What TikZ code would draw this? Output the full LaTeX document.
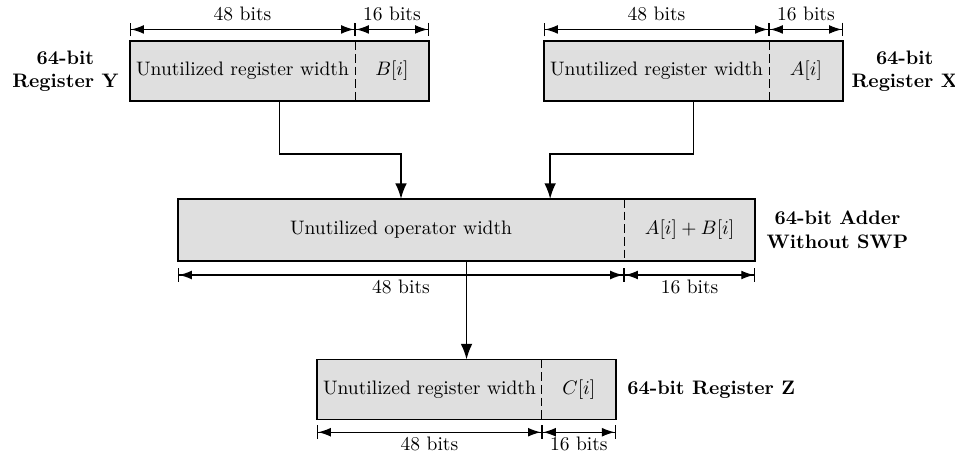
\documentclass[tikz,border=0pt]{standalone}
\usepackage{amsmath, amssymb}
\usepackage{tikz}
\usepackage{xcolor}
\usetikzlibrary{positioning,arrows.meta,calc,fit}
\tikzset{regpart/.style={fill=gray!25,minimum height=1.08cm,inner sep=1pt,outer sep=0pt}}
\tikzset{regframe/.style={draw,thick,inner sep=0pt,outer sep=0pt}}
\tikzset{regname/.style={font=\bfseries,align=center,inner sep=0pt}}
\tikzset{split/.style={line width=0.5pt,dash pattern=on 4.5pt off 2pt}}
\tikzset{dimline/.style={semithick,{Bar[width=7pt]Latex[length=6.5pt,width=4.5pt]}-{Latex[length=6.5pt,width=4.5pt]Bar[width=7pt]}}}
\tikzset{flow/.style={thick,-{Latex[length=8pt,width=6pt]}}}

\begin{document}
\begin{tikzpicture}
    \useasboundingbox (0,0) rectangle (17.19,-8.19);
    % draw register Y
    \node[regpart,minimum width=4.05cm] (yw) at (4.365,-1.28) {Unutilized register width};
    \node[regpart,minimum width=1.33cm,right=0pt of yw] (yn) {$B[i]$};
    \node[regframe,fit=(yw)(yn)] (regy) {};
    \draw[split] (yw.north east) -- (yw.south east);
    \node[regname,left=0.2cm of regy] (ylabel) {64-bit\\Register Y};

    % draw register X
    \node[regpart,minimum width=4.05cm] (xw) at (11.817,-1.28) {Unutilized register width};
    \node[regpart,minimum width=1.33cm,right=0pt of xw] (xn) {$A[i]$};
    \node[regframe,fit=(xw)(xn)] (regx) {};
    \draw[split] (xw.north east) -- (xw.south east);
    \node[regname,right=0.15cm of regx] (xlabel) {64-bit\\Register X};

    % draw the adder
    \node[regpart,minimum width=8.03cm,minimum height=1.12cm] (aw) at (7.218,-4.14) {Unutilized operator width};
    \node[regpart,minimum width=2.36cm,minimum height=1.12cm,right=0pt of aw] (an) {$A[i]+B[i]$};
    \node[regframe,fit=(aw)(an)] (adder) {};
    \draw[split] (aw.north east) -- (aw.south east);
    \node[regname,right=0.2cm of adder] (alabel) {64-bit Adder\\Without SWP};

    % draw register Z
    \node[regpart,minimum width=4.05cm] (zw) at (7.73,-7.01) {Unutilized register width};
    \node[regpart,minimum width=1.33cm,right=0pt of zw] (zn) {$C[i]$};
    \node[regframe,fit=(zw)(zn)] (regz) {};
    \draw[split] (zw.north east) -- (zw.south east);
    \node[regname,right=0.2cm of regz] (zlabel) {64-bit Register Z};

    % draw the widths
    \draw[dimline] ($(yw.north west)+(0,0.21)$) -- ($(yw.north east)+(0,0.21)$) node[midway,above,inner sep=4pt] {48 bits};
    \draw[dimline] ($(yn.north west)+(0,0.21)$) -- ($(yn.north east)+(0,0.21)$) node[midway,above,inner sep=4pt] {16 bits};
    \draw[dimline] ($(xw.north west)+(0,0.21)$) -- ($(xw.north east)+(0,0.21)$) node[midway,above,inner sep=4pt] {48 bits};
    \draw[dimline] ($(xn.north west)+(0,0.21)$) -- ($(xn.north east)+(0,0.21)$) node[midway,above,inner sep=4pt] {16 bits};
    \draw[dimline] ($(aw.south west)+(0,-0.25)$) -- ($(aw.south east)+(0,-0.25)$) node[midway,below,inner sep=2pt] {48 bits};
    \draw[dimline] ($(an.south west)+(0,-0.25)$) -- ($(an.south east)+(0,-0.25)$) node[midway,below,inner sep=2pt] {16 bits};
    \draw[dimline] ($(zw.south west)+(0,-0.23)$) -- ($(zw.south east)+(0,-0.23)$) node[midway,below,inner sep=2pt] {48 bits};
    \draw[dimline] ($(zn.south west)+(0,-0.23)$) -- ($(zn.south east)+(0,-0.23)$) node[midway,below,inner sep=2pt] {16 bits};

    % draw the data flow
    \coordinate (xin) at ($(aw.north east)+(-1.33,0)$);
    \draw[flow] (regy.south) -- ++(0,-0.95) -| (aw.north);
    \draw[flow] (regx.south) -- ++(0,-0.95) -| (xin);
    \draw[flow] (adder.south) -- (adder.south |- regz.north);
\end{tikzpicture}
\end{document}
